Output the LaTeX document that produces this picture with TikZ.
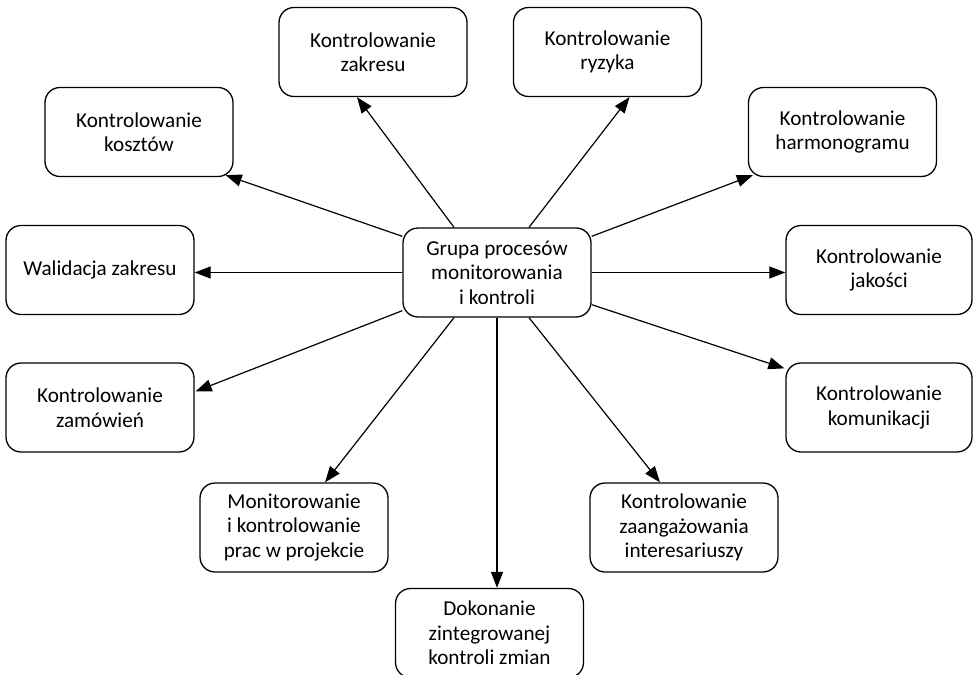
\documentclass[tikz,border=0pt]{standalone}
\usepackage{fontspec}
\setmainfont{Carlito}
\usetikzlibrary{arrows.meta,calc}
\begin{document}
\begin{tikzpicture}[x=1pt,y=-1pt,
  box/.style={draw, rounded corners=15pt, line width=1.3pt,
    minimum width=188pt, minimum height=89pt, inner sep=0pt,
    align=center, font=\fontsize{21.2}{24.5}\selectfont},
  link/.style={line width=1.2pt, -{Triangle[length=16pt,width=12pt]}}]
\useasboundingbox (0,0) rectangle (973,674);
\clip (0,0) rectangle (973,674);

% central process group
\node[box] (cen) at (497,272.5) {Grupa procesów\\monitorowania\\i kontroli};

% surrounding processes
\node[box] (zak) at (373,52) {Kontrolowanie\\zakresu};
\node[box] (ryz) at (607.5,52) {Kontrolowanie\\ryzyka};
\node[box] (kosz) at (139,132) {Kontrolowanie\\kosztów};
\node[box] (harm) at (842.5,132) {Kontrolowanie\\harmonogramu};
\node[box] (wal) at (100,270) {Walidacja zakresu};
\node[box, minimum width=186pt] (jak) at (879,270) {Kontrolowanie\\jakości};
\node[box] (zam) at (100,407.5) {Kontrolowanie\\zamówień};
\node[box, minimum width=186pt] (kom) at (879,407.5) {Kontrolowanie\\komunikacji};
\node[box] (mon) at (294,527.5) {Monitorowanie\\i kontrolowanie\\prac w projekcie};
\node[box] (zaa) at (684,527.5) {Kontrolowanie\\zaangażowania\\interesariuszy};
\node[box] (dok) at (489.5,633) {Dokonanie\\zintegrowanej\\kontroli zmian};

% connectors
\draw[link] ($(cen.north)+(-43,0)$) -- ($(zak.south)+(-16,0)$);
\draw[link] ($(cen.north)+(32,0)$) -- ($(ryz.south)+(22,0)$);
\draw[link] ($(cen.north west)+(0,9)$) -- ($(kosz.south east)+(-8,-2)$);
\draw[link] ($(cen.north east)+(0,9)$) -- ($(harm.south west)+(5,-2)$);
\draw[link] (cen.west) -- (cen.west -| wal.east);
\draw[link] (cen.east) -- (cen.east -| jak.west);
\draw[link] ($(cen.south west)+(0,-7)$) -- ($(zam.north east)+(1,29)$);
\draw[link] ($(cen.south east)+(0,-13)$) -- ($(kom.north west)+(-1,6)$);
\draw[link] ($(cen.south)+(-43,0)$) -- ($(mon.north)+(31,0)$);
\draw[link] (cen.south) -- (cen.south |- dok.north);
\draw[link] ($(cen.south)+(32,0)$) -- ($(zaa.north)+(-24,0)$);
\end{tikzpicture}
\end{document}
